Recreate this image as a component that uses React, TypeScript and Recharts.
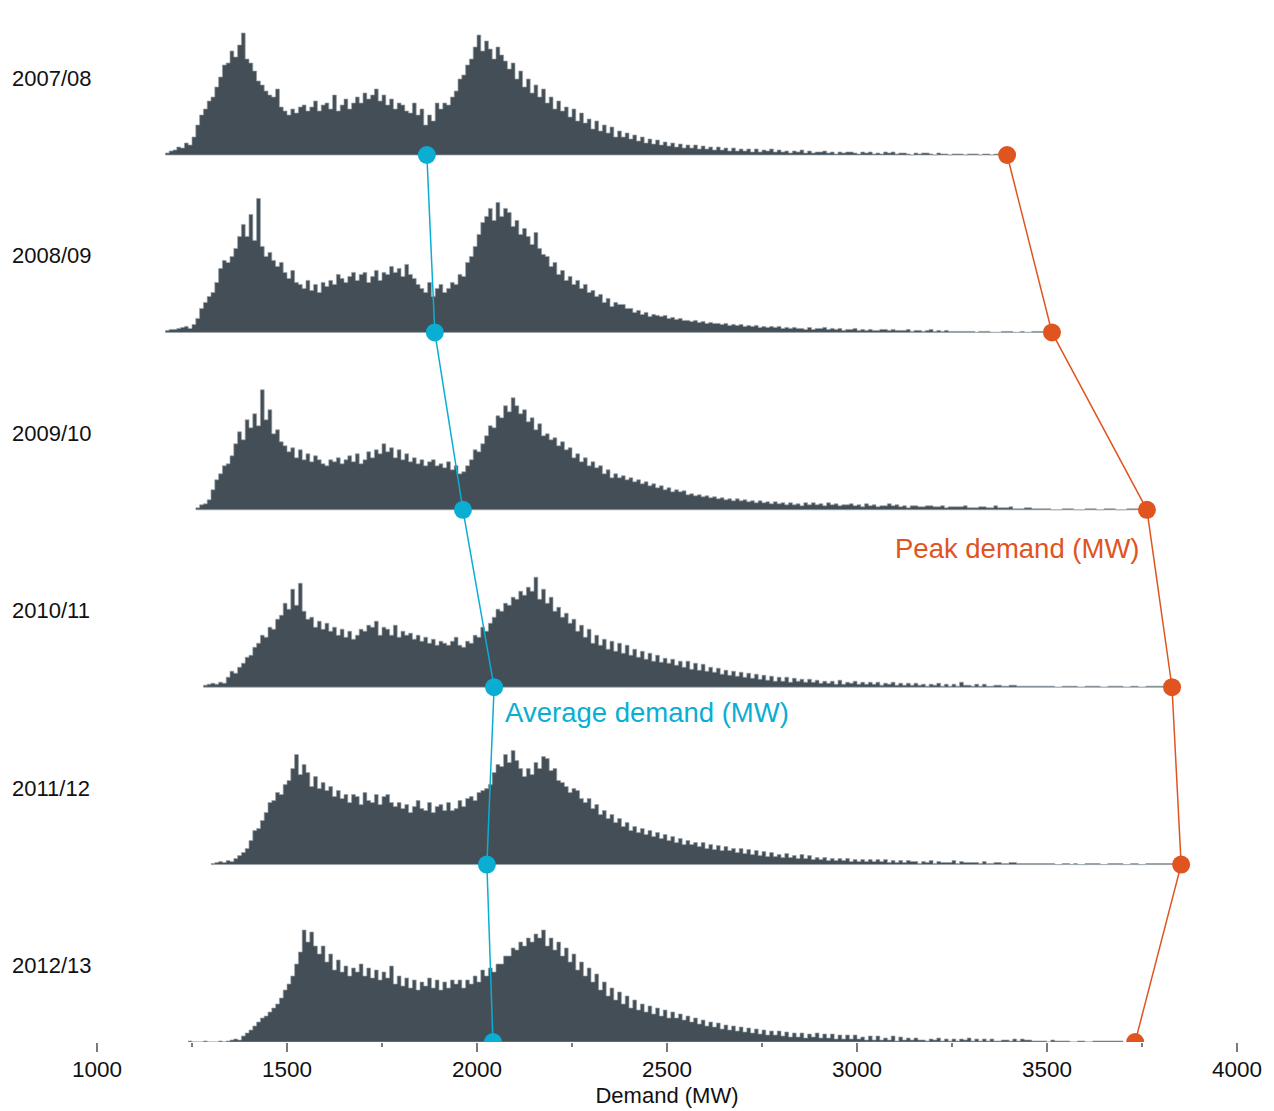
import React from "react";
import { ComposedChart, Area, Scatter, XAxis, YAxis } from "recharts";

// hourly demand distribution, hours per 10 MW band, one list per financial year
const years = ["2007/08", "2008/09", "2009/10", "2010/11", "2011/12", "2012/13"];
const bandWidth = 10;
const bandStart = [1180, 1180, 1260, 1280, 1300, 1240];

const hours0708 = [
  2, 4, 5, 8, 7, 12, 10, 18, 30, 40,
  46, 54, 58, 68, 78, 90, 92, 104, 98, 110,
  122, 96, 92, 84, 74, 70, 64, 60, 58, 66,
  48, 44, 40, 46, 42, 48, 50, 44, 48, 54,
  44, 50, 52, 46, 60, 44, 50, 56, 46, 52,
  58, 52, 62, 56, 60, 66, 54, 60, 50, 56,
  46, 52, 50, 44, 42, 52, 40, 46, 30, 40,
  34, 52, 46, 52, 50, 58, 64, 76, 80, 90,
  96, 108, 120, 104, 114, 106, 96, 108, 100, 94,
  86, 92, 76, 84, 68, 76, 62, 70, 58, 66,
  52, 58, 46, 54, 44, 48, 38, 46, 34, 42,
  32, 36, 26, 34, 24, 30, 22, 28, 18, 24,
  18, 22, 16, 20, 14, 18, 12, 16, 11, 15,
  10, 13, 9, 12, 8, 11, 7, 10, 7, 10,
  6, 9, 6, 8, 5, 8, 5, 7, 4, 7,
  4, 6, 4, 6, 3, 6, 3, 5, 4, 6,
  3, 5, 3, 4, 2, 4, 3, 5, 2, 4,
  2, 3, 3, 4, 2, 3, 1, 3, 2, 3,
  3, 2, 1, 3, 2, 3, 1, 2, 1, 3,
  2, 3, 1, 2, 2, 1, 0, 2, 1, 2,
  2, 1, 0, 2, 1, 1, 0, 1, 1, 1,
  0, 1, 1, 1, 0, 1, 1, 0, 1, 1,
  1, 1,
];
const hours0809 = [
  2, 3, 3, 4, 5, 6, 4, 8, 14, 24,
  30, 36, 40, 50, 64, 72, 70, 76, 84, 96,
  108, 96, 118, 92, 134, 86, 76, 80, 72, 66,
  70, 60, 54, 62, 50, 48, 44, 52, 42, 48,
  40, 50, 46, 52, 48, 58, 54, 50, 56, 60,
  52, 58, 60, 50, 56, 62, 52, 60, 58, 66,
  60, 64, 56, 68, 58, 54, 48, 44, 40, 50,
  36, 44, 48, 40, 44, 50, 48, 58, 56, 70,
  76, 86, 98, 110, 116, 124, 112, 130, 116, 124,
  120, 106, 112, 98, 104, 96, 88, 100, 84, 78,
  76, 66, 70, 58, 62, 52, 56, 48, 52, 44,
  48, 40, 42, 36, 38, 30, 34, 26, 30, 28,
  28, 24, 24, 20, 22, 18, 20, 16, 18, 17,
  16, 17, 14, 15, 13, 14, 12, 12, 11, 12,
  10, 11, 9, 10, 9, 9, 8, 9, 7, 8,
  7, 8, 6, 7, 6, 7, 5, 6, 5, 6,
  5, 6, 4, 5, 4, 5, 4, 4, 3, 5,
  3, 4, 4, 5, 3, 4, 3, 4, 2, 3,
  3, 4, 2, 3, 2, 3, 2, 2, 3, 3,
  2, 3, 2, 2, 2, 3, 1, 2, 2, 1,
  2, 3, 1, 2, 1, 2, 1, 1, 1, 1,
  1, 1, 1, 0, 1, 1, 1, 0, 0, 0,
  1, 1, 1, 0, 0, 1, 0, 0, 1, 1,
  1, 0,
];
const hours0910 = [
  2, 5, 6, 10, 20, 30, 36, 44, 46, 54,
  66, 78, 70, 90, 82, 96, 84, 120, 90, 100,
  76, 80, 68, 64, 58, 62, 52, 60, 50, 56,
  48, 54, 50, 46, 44, 50, 48, 52, 46, 50,
  54, 48, 56, 46, 50, 58, 52, 60, 56, 66,
  58, 62, 52, 60, 50, 56, 48, 52, 46, 50,
  44, 48, 50, 44, 46, 42, 48, 40, 44, 36,
  38, 44, 50, 60, 58, 66, 74, 84, 82, 94,
  92, 104, 98, 112, 104, 96, 100, 88, 92, 80,
  86, 74, 76, 70, 72, 64, 68, 60, 62, 52,
  56, 48, 52, 44, 48, 42, 44, 36, 40, 32,
  36, 32, 34, 30, 32, 28, 30, 26, 28, 24,
  26, 22, 24, 20, 22, 18, 20, 18, 19, 15,
  16, 14, 15, 13, 14, 12, 13, 11, 12, 10,
  11, 9, 11, 9, 10, 8, 9, 7, 9, 7,
  8, 6, 8, 6, 7, 5, 7, 5, 6, 4,
  7, 5, 7, 5, 6, 4, 7, 5, 6, 4,
  5, 5, 6, 4, 5, 3, 6, 4, 5, 3,
  4, 4, 6, 4, 5, 3, 4, 2, 4, 4,
  3, 3, 4, 4, 3, 3, 4, 2, 3, 3,
  3, 3, 4, 2, 2, 2, 3, 3, 2, 2,
  4, 2, 2, 2, 3, 1, 1, 1, 2, 2,
  1, 1, 1, 1, 1, 0, 0, 0, 1, 1,
  1, 0, 0, 0, 1, 1, 1, 0, 0, 1,
  1, 1, 0, 0, 0, 1, 1, 1, 1, 0,
];
const hours1011 = [
  2, 3, 4, 3, 5, 4, 10, 16, 14, 20,
  24, 30, 32, 40, 44, 52, 50, 60, 58, 68,
  72, 84, 78, 98, 82, 104, 76, 68, 70, 60,
  66, 58, 64, 56, 60, 52, 58, 50, 56, 48,
  52, 58, 56, 62, 60, 66, 52, 60, 58, 52,
  62, 50, 56, 52, 54, 48, 52, 46, 50, 44,
  48, 42, 46, 44, 42, 46, 50, 42, 40, 46,
  44, 52, 50, 60, 56, 64, 70, 78, 76, 84,
  82, 90, 88, 96, 92, 100, 96, 110, 88, 98,
  84, 90, 76, 80, 70, 74, 64, 68, 56, 62,
  50, 58, 44, 52, 42, 48, 38, 46, 36, 44,
  34, 42, 32, 38, 30, 36, 28, 34, 26, 32,
  25, 29, 24, 28, 22, 26, 20, 26, 18, 24,
  17, 23, 16, 20, 15, 19, 13, 17, 12, 16,
  11, 15, 10, 14, 9, 13, 8, 12, 7, 11,
  6, 10, 6, 10, 5, 9, 6, 8, 5, 8,
  5, 7, 4, 6, 4, 6, 3, 7, 3, 5,
  4, 6, 3, 5, 3, 5, 3, 5, 2, 4,
  3, 5, 2, 4, 2, 4, 2, 4, 2, 3,
  1, 3, 2, 4, 1, 3, 1, 3, 1, 5,
  2, 2, 1, 3, 1, 3, 1, 1, 2, 2,
  1, 1, 2, 2, 1, 1, 1, 1, 1, 1,
  1, 1, 1, 1, 0, 0, 1, 1, 1, 1,
  0, 0, 1, 1, 1, 1, 0, 0, 1, 1,
  1, 1, 0, 0, 1, 1, 0, 0, 1, 1,
  1, 1, 1, 1,
];
const hours1112 = [
  1, 2, 3, 2, 4, 3, 6, 9, 12, 16,
  24, 34, 36, 44, 52, 62, 64, 72, 70, 80,
  84, 96, 110, 90, 100, 92, 78, 88, 76, 82,
  74, 78, 68, 74, 66, 70, 62, 70, 68, 60,
  72, 64, 62, 70, 60, 68, 70, 62, 58, 62,
  56, 60, 52, 58, 64, 56, 54, 62, 52, 58,
  60, 54, 62, 54, 56, 64, 58, 66, 68, 64,
  72, 74, 76, 80, 92, 100, 98, 110, 102, 114,
  104, 96, 88, 96, 90, 102, 96, 108, 106, 94,
  96, 84, 82, 78, 72, 76, 74, 66, 62, 66,
  56, 60, 50, 54, 46, 50, 42, 46, 38, 42,
  34, 38, 32, 36, 30, 34, 28, 32, 26, 30,
  24, 28, 22, 26, 20, 24, 20, 22, 18, 22,
  16, 20, 15, 19, 14, 18, 14, 16, 12, 16,
  11, 15, 10, 14, 9, 13, 8, 12, 8, 10,
  7, 11, 7, 9, 6, 10, 6, 9, 5, 7,
  5, 7, 4, 6, 4, 6, 4, 6, 3, 5,
  3, 5, 3, 5, 3, 5, 3, 5, 2, 4,
  2, 4, 2, 4, 3, 3, 1, 3, 2, 4,
  1, 3, 2, 2, 2, 4, 1, 3, 2, 2,
  2, 2, 1, 3, 1, 1, 2, 2, 1, 1,
  2, 2, 1, 1, 1, 1, 1, 1, 1, 1,
  1, 1, 0, 0, 1, 1, 0, 1, 0, 0,
  1, 1, 1, 1, 0, 0, 1, 1, 1, 1,
  0, 0, 1, 1, 0, 0, 1, 1, 1, 1,
  1, 1, 1, 1, 1, 1,
];
const hours1213 = [
  1, 0, 0, 0, 1, 0, 0, 0, 1, 0,
  1, 2, 3, 2, 6, 9, 12, 16, 20, 24,
  26, 30, 34, 38, 44, 52, 58, 66, 78, 90,
  112, 100, 110, 96, 88, 96, 80, 88, 72, 82,
  70, 76, 66, 74, 70, 78, 66, 74, 64, 72,
  62, 70, 64, 76, 58, 66, 56, 64, 54, 62,
  52, 60, 56, 64, 54, 62, 52, 60, 54, 62,
  58, 62, 54, 62, 58, 66, 60, 72, 66, 74,
  70, 78, 78, 86, 86, 94, 92, 100, 96, 104,
  100, 108, 104, 112, 96, 104, 92, 100, 86, 94,
  80, 88, 72, 80, 66, 74, 60, 68, 52, 60,
  46, 54, 42, 50, 38, 46, 34, 42, 32, 38,
  30, 36, 28, 34, 26, 32, 24, 30, 24, 28,
  22, 26, 20, 24, 18, 22, 16, 20, 15, 19,
  13, 17, 12, 16, 11, 15, 10, 14, 9, 13,
  8, 12, 7, 11, 7, 11, 6, 10, 5, 9,
  5, 9, 4, 8, 5, 9, 4, 8, 4, 8,
  3, 7, 3, 7, 3, 7, 3, 5, 2, 6,
  2, 6, 2, 4, 2, 6, 1, 5, 2, 4,
  2, 4, 2, 2, 1, 3, 2, 4, 1, 3,
  1, 3, 1, 3, 2, 4, 1, 3, 1, 3,
  1, 3, 1, 1, 2, 2, 1, 3, 1, 3,
  2, 2, 1, 1, 1, 1, 0, 2, 1, 1,
  1, 1, 0, 0, 1, 1, 0, 0, 1, 1,
  1, 1, 1, 1, 1, 1,
];

const averageDemand = [1868, 1889, 1963, 2045, 2026, 2042];
const peakDemand = [3395, 3513, 3763, 3829, 3853, 3732];
const demandTicks = [1000, 1250, 1500, 1750, 2000, 2250, 2500, 2750, 3000, 3250, 3500, 3750, 4000];

const histograms = [hours0708, hours0809, hours0910, hours1011, hours1112, hours1213];

const DARK = "#434e57";
const BLUE = "#0aaed2";
const ORANGE = "#e0541f";
const FONT = "Arial, 'Liberation Sans', sans-serif";

// vertical layout: each year sits on its own baseline
const ROW = 177.4;
const TOP = 1034;
const baseOf = (i: number) => (years.length - 1 - i) * ROW;
const labelValues = years.map((_, i) => baseOf(i) + 77);

const byX: Record<number, any> = {};
histograms.forEach((hours, i) => {
  hours.concat([0]).forEach((v, j) => {
    const x = bandStart[i] + j * bandWidth;
    if (!byX[x]) byX[x] = { x };
    byX[x][`r${i}`] = [baseOf(i), baseOf(i) + v];
  });
});
const data = Object.values(byX).sort((a: any, b: any) => a.x - b.x);

const avgPoints = averageDemand.map((x, i) => ({ x, y: baseOf(i) }));
const peakPoints = peakDemand.map((x, i) => ({ x, y: baseOf(i) }));

const DemandTick = ({ x, y, payload }: any) => {
  const major = payload.value % 500 === 0;
  return (
    <g>
      <line x1={x} x2={x} y1={y + 1} y2={y + (major ? 10 : 5)} stroke="#333" strokeWidth={1.3} />
      {major && (
        <text x={x} y={y + 35} textAnchor="middle" fontSize={22.5} fill="#111" fontFamily={FONT}>
          {payload.value}
        </text>
      )}
    </g>
  );
};

const YearTick = ({ y, payload }: any) => {
  const i = labelValues.indexOf(payload.value);
  return (
    <text x={12} y={y + 8} fontSize={22} fill="#111" fontFamily={FONT}>
      {years[i]}
    </text>
  );
};

const dot = (color: string) => (p: any) => <circle cx={p.cx} cy={p.cy} r={9} fill={color} />;

const note = (text: string, color: string) => (p: any) => (
  <text x={p.cx} y={p.cy} fontSize={27.5} fill={color} fontFamily={FONT}>
    {text}
  </text>
);

export default function App() {
  return (
    <div style={{ position: "absolute", left: 0, top: 0, width: 1274, height: 1110, background: "#fff" }}>
      <ComposedChart width={1274} height={1110} data={data} margin={{ top: 8, right: 37, bottom: 0, left: 0 }}>
        <XAxis
          dataKey="x"
          type="number"
          domain={[1000, 4000]}
          ticks={demandTicks}
          interval={0}
          tick={<DemandTick />}
          tickLine={false}
          axisLine={false}
          tickSize={0}
          tickMargin={0}
          height={68}
          label={{ value: "Demand (MW)", position: "insideBottom", offset: 7, fontSize: 22, fill: "#111", fontFamily: FONT }}
        />
        <YAxis
          type="number"
          domain={[0, TOP]}
          allowDataOverflow
          ticks={labelValues}
          interval={0}
          tick={<YearTick />}
          tickLine={false}
          axisLine={false}
          width={97}
        />
        {histograms.map((_, i) => (
          <Area
            key={years[i]}
            dataKey={`r${i}`}
            type="stepAfter"
            fill={DARK}
            fillOpacity={1}
            stroke="#9ba3a9"
            strokeWidth={0.7}
            dot={false}
            activeDot={false}
            isAnimationActive={false}
          />
        ))}
        <Scatter data={avgPoints} dataKey="y" line={{ stroke: BLUE, strokeWidth: 1.5 }} shape={dot(BLUE)} isAnimationActive={false} />
        <Scatter data={peakPoints} dataKey="y" line={{ stroke: ORANGE, strokeWidth: 1.5 }} shape={dot(ORANGE)} isAnimationActive={false} />
        <Scatter data={[{ x: 3100, y: 484 }]} dataKey="y" shape={note("Peak demand (MW)", ORANGE)} isAnimationActive={false} />
        <Scatter data={[{ x: 2074, y: 320 }]} dataKey="y" shape={note("Average demand (MW)", BLUE)} isAnimationActive={false} />
      </ComposedChart>
    </div>
  );
}
